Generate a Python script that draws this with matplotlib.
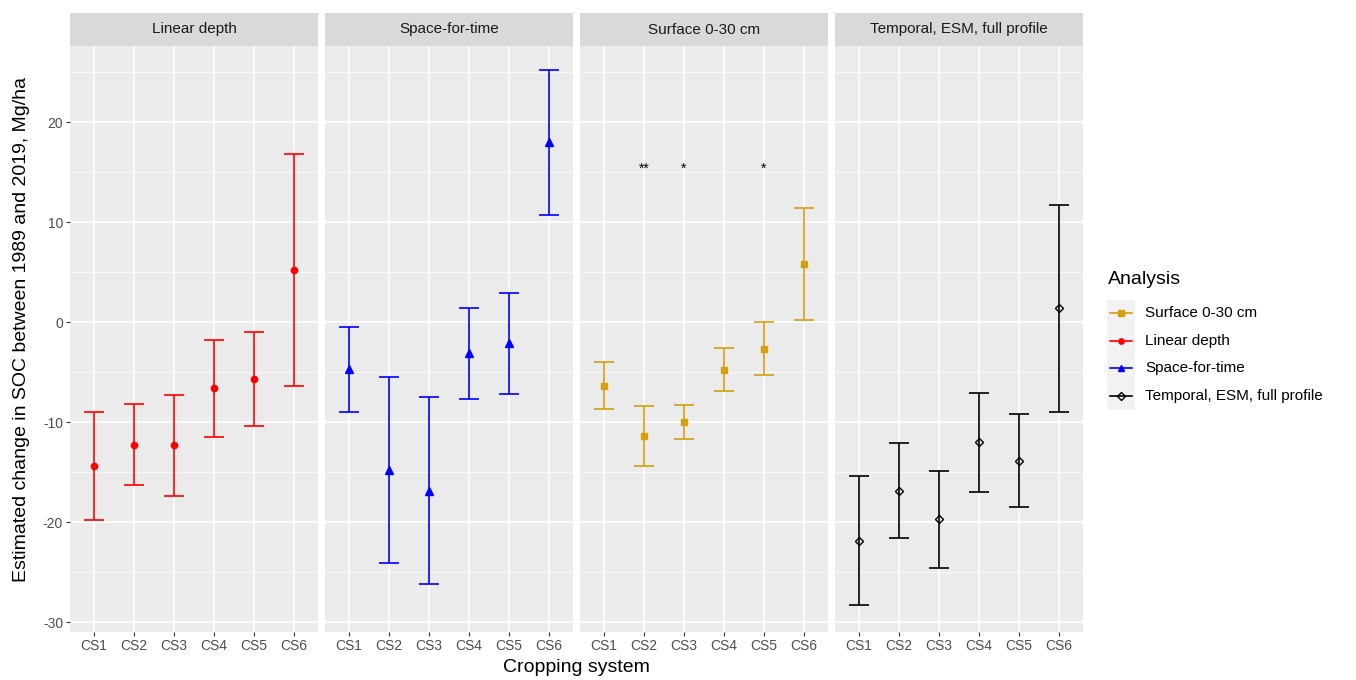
import numpy as np
import matplotlib
matplotlib.use("Agg")
import matplotlib.pyplot as plt
from matplotlib.lines import Line2D
from matplotlib.patches import Rectangle
from matplotlib.ticker import MultipleLocator

plt.rcParams['font.family'] = ['Liberation Sans', 'DejaVu Sans']
plt.rcParams['axes.unicode_minus'] = False

systems = ['CS1', 'CS2', 'CS3', 'CS4', 'CS5', 'CS6']
panels = ['Linear depth', 'Space-for-time', 'Surface 0-30 cm', 'Temporal, ESM, full profile']

linear_mean = [-14.4, -12.3, -12.3, -6.6, -5.7, 5.2]
linear_low = [-19.8, -16.3, -17.4, -11.5, -10.4, -6.4]
linear_high = [-9.0, -8.2, -7.3, -1.8, -1.0, 16.8]

space_mean = [-4.7, -14.75, -16.9, -3.1, -2.1, 18.0]
space_low = [-9.0, -24.1, -26.2, -7.7, -7.2, 10.7]
space_high = [-0.5, -5.5, -7.5, 1.4, 2.95, 25.2]

surface_mean = [-6.4, -11.4, -10.0, -4.75, -2.7, 5.8]
surface_low = [-8.7, -14.4, -11.7, -6.9, -5.3, 0.2]
surface_high = [-4.0, -8.4, -8.3, -2.6, 0.0, 11.4]

temporal_mean = [-21.9, -16.9, -19.7, -12.0, -13.9, 1.4]
temporal_low = [-28.3, -21.6, -24.6, -17.0, -18.5, -9.0]
temporal_high = [-15.4, -12.1, -14.9, -7.1, -9.2, 11.7]

stars = ['', '**', '*', '', '*', '']
star_y = 15.3

gold = '#D4A00F'
styles = {
    'Linear depth': dict(color='#FF0000', marker='o', mfc='#FF0000', ms=4.5),
    'Space-for-time': dict(color='#0000FF', marker='^', mfc='#0000FF', ms=5.5),
    'Surface 0-30 cm': dict(color=gold, marker='s', mfc=gold, ms=5),
    'Temporal, ESM, full profile': dict(color='#000000', marker='D', mfc='none', ms=4.5),
}
data = {
    'Linear depth': (linear_mean, linear_low, linear_high),
    'Space-for-time': (space_mean, space_low, space_high),
    'Surface 0-30 cm': (surface_mean, surface_low, surface_high),
    'Temporal, ESM, full profile': (temporal_mean, temporal_low, temporal_high),
}

W, H = 1356, 680
fig = plt.figure(figsize=(W / 100, H / 100), dpi=100)

panel_left = [70, 325, 580, 835]
pw = 248
top, bottom = 46, 632
strip_top = 13
grey30 = '#4D4D4D'

x = np.arange(1, 7)
for i, name in enumerate(panels):
    ax = fig.add_axes([panel_left[i] / W, 1 - bottom / H, pw / W, (bottom - top) / H])
    ax.set_facecolor('#EBEBEB')
    ax.set_xlim(0.4, 6.6)
    ax.set_ylim(-31.0, 27.6)
    ax.yaxis.set_major_locator(MultipleLocator(10))
    ax.yaxis.set_minor_locator(MultipleLocator(5))
    ax.grid(which='major', color='white', lw=1.1, zorder=0)
    ax.grid(which='minor', axis='y', color='white', lw=0.5, zorder=0)
    ax.set_axisbelow(True)
    for s in ax.spines.values():
        s.set_visible(False)
    ax.set_xticks(x)
    ax.set_xticklabels(systems, fontsize=10, color=grey30)
    ax.tick_params(which='major', length=3, color='#333333', width=0.8, pad=2)
    ax.tick_params(which='minor', length=0)
    if i == 0:
        ax.tick_params(axis='y', labelsize=10, labelcolor=grey30)
    else:
        ax.tick_params(axis='y', left=False, labelleft=False)

    mean, low, high = data[name]
    mean = np.array(mean)
    st = styles[name]
    yerr = [mean - np.array(low), np.array(high) - mean]
    ax.errorbar(x, mean, yerr=yerr, fmt='none', ecolor=st['color'],
                elinewidth=1.2, capsize=7.5, capthick=1.2, zorder=3)
    ax.plot(x, mean, ls='none', marker=st['marker'], color=st['color'],
            mfc=st['mfc'], ms=st['ms'], mew=1, zorder=4)

    if name == 'Surface 0-30 cm':
        for xi, s in zip(x, stars):
            if s:
                ax.text(xi, star_y, s, ha='center', va='center', fontsize=10, color='black')

    sax = fig.add_axes([panel_left[i] / W, 1 - top / H, pw / W, (top - strip_top) / H])
    sax.set_facecolor('#D9D9D9')
    sax.set_xticks([])
    sax.set_yticks([])
    for s in sax.spines.values():
        s.set_visible(False)
    sax.text(0.5, 0.5, name, ha='center', va='center', fontsize=11, color='#1A1A1A',
             transform=sax.transAxes)

fig.text(22 / W, 1 - 330 / H, 'Estimated change in SOC between 1989 and 2019, Mg/ha',
         rotation=90, ha='center', va='center', fontsize=14)
fig.text(576 / W, 1 - 667 / H, 'Cropping system', ha='center', va='center', fontsize=14)

# legend
fig.patches.append(Rectangle((1107 / W, 1 - 410 / H), 28 / W, 110 / H,
                             transform=fig.transFigure, facecolor='#F2F2F2', edgecolor='none'))
fig.text(1108 / W, 1 - 280 / H, 'Analysis', ha='left', va='center', fontsize=14)
legend_order = ['Surface 0-30 cm', 'Linear depth', 'Space-for-time', 'Temporal, ESM, full profile']
for k, name in enumerate(legend_order):
    yk = 1 - (313 + k * 27.7) / H
    st = styles[name]
    fig.add_artist(Line2D([1110 / W, 1132 / W], [yk, yk], transform=fig.transFigure,
                          color=st['color'], lw=1.2))
    fig.add_artist(Line2D([1121 / W], [yk], transform=fig.transFigure, ls='none',
                          marker=st['marker'], color=st['color'], mfc=st['mfc'],
                          ms=st['ms'] * 0.85, mew=1))
    fig.text(1145 / W, yk, name, ha='left', va='center', fontsize=11)

fig.savefig('out.png', dpi=100, facecolor='white')
